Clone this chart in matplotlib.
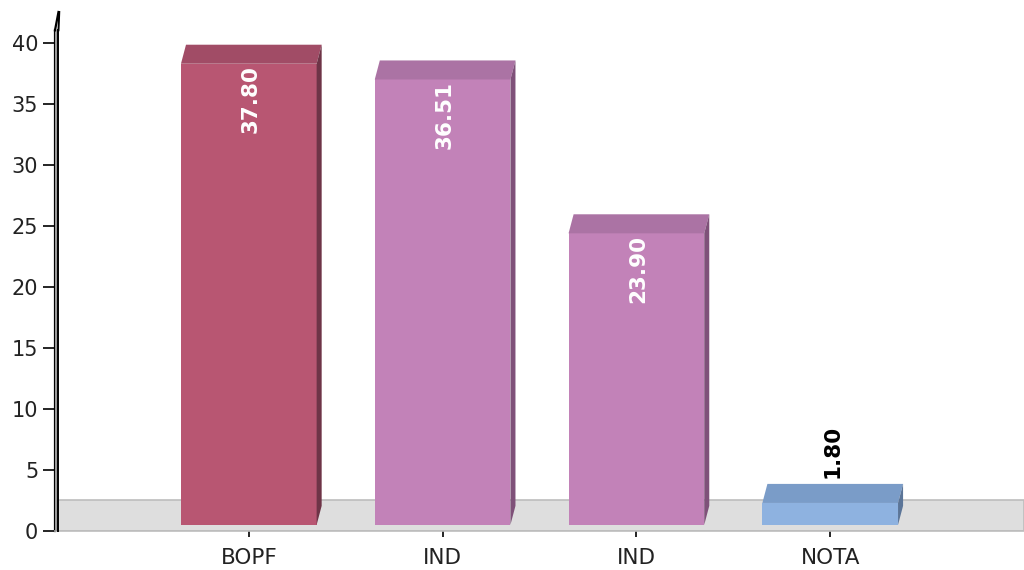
import matplotlib.pyplot as plt
from matplotlib.patches import Polygon

# datos del gráfico
categories = ["BOPF", "IND", "IND", "NOTA"]
values = [37.80, 36.51, 23.90, 1.80]
front_colors = ["#b85672", "#c282b8", "#c282b8", "#8eb2e0"]
top_colors = ["#a14c66", "#ab73a4", "#ab73a4", "#7a9cc8"]
side_colors = ["#6e3447", "#7f5179", "#7f5179", "#5b7598"]
label_colors = ["white", "white", "white", "black"]

W, H = 1024, 570
fig = plt.figure(figsize=(W / 100, H / 100), dpi=100)
ax = fig.add_axes([55 / W, 1 - 531 / H, 1 - 55 / W, (531 - 12) / H])

ax.set_xlim(-1, 4)
ax.set_ylim(0, (531 - 12) / 12.2)

# efecto 3D
base = 0.5
dx = 0.026
dy = 1.56
width = 0.7
floor_h = 2.54

# -------------------------------------------------
# Piso gris
# -------------------------------------------------
floor = Polygon([(-1, 0), (4, 0), (4, floor_h), (-1 + 0.018, floor_h)],
                closed=True, facecolor="#dedede", edgecolor="#bdbdbd",
                linewidth=1.2, zorder=1)
ax.add_patch(floor)

# -------------------------------------------------
# Barras
# -------------------------------------------------
x = list(range(len(categories)))
ax.bar(x, values, width=width, bottom=base, color=front_colors, zorder=3)

for i, v in enumerate(values):
    left = i - width / 2
    right = i + width / 2
    top = v + base

    top_face = Polygon([(left, top), (right, top), (right + dx, top + dy),
                        (left + dx, top + dy)], closed=True,
                       facecolor=top_colors[i], edgecolor="none", zorder=3)
    ax.add_patch(top_face)

    side_face = Polygon([(right, base), (right + dx, base + dy),
                         (right + dx, top + dy), (right, top)], closed=True,
                        facecolor=side_colors[i], edgecolor="none", zorder=3)
    ax.add_patch(side_face)

    if v > 5:
        ax.text(i + 0.01, top - 0.1, f"{v:.2f}", rotation=90, ha="center",
                va="top", color=label_colors[i], fontsize=15.5,
                fontweight="bold", zorder=4)
    else:
        ax.text(i + 0.01, top + dy + 0.5, f"{v:.2f}", rotation=90,
                ha="center", va="bottom", color=label_colors[i],
                fontsize=15.5, fontweight="bold", zorder=4)

# -------------------------------------------------
# Ejes
# -------------------------------------------------
ax.set_xticks(x)
ax.set_xticklabels(categories, fontsize=15.5, color="#222222")
ax.set_yticks(range(0, 45, 5))
ax.tick_params(axis="y", labelsize=15, labelcolor="#222222",
               length=9, width=1.2, pad=3)
ax.tick_params(axis="x", length=4, width=1.2, pad=8)

ymax = ax.get_ylim()[1]
bend = ymax - 1.5

ax.spines["top"].set_visible(False)
ax.spines["right"].set_visible(False)
ax.spines["left"].set_linewidth(1.6)
ax.spines["left"].set_color("black")
ax.spines["left"].set_bounds(0, bend)
ax.spines["bottom"].set_color("#bdbdbd")
ax.spines["bottom"].set_linewidth(1.2)

# línea 3D del eje vertical
off = 0.018
ax.fill_betweenx([0, bend], -1, -1 + off, color="#9a9a9a",
                 clip_on=False, zorder=5, linewidth=0)
ax.plot([-1 + off, -1 + off], [0, bend], color="black", lw=1.4,
        clip_on=False, zorder=5)
ax.plot([-1, -1 + off], [bend, ymax], color="black", lw=1.6,
        clip_on=False, zorder=5)
ax.plot([-1 + off, -1 + off + 0.004], [bend, ymax], color="black", lw=1.4,
        clip_on=False, zorder=5)

fig.savefig("out.png", dpi=100)
